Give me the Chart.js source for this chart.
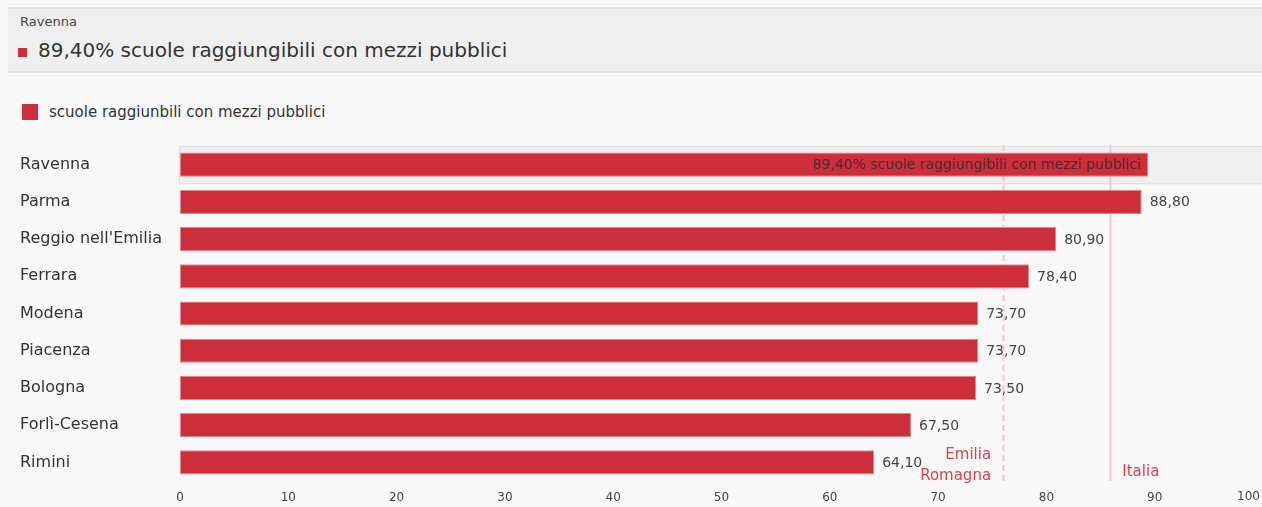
<!DOCTYPE html>
<html>
<head>
<meta charset="utf-8">
<script src="https://cdn.jsdelivr.net/npm/chart.js@4.4.1/dist/chart.umd.min.js"></script>
<style>
  html, body { margin: 0; padding: 0; background: #f8f8f8; overflow: hidden; }
  body { width: 1262px; height: 507px; position: relative; font-family: "DejaVu Sans", sans-serif; color: #333; }
  .head { position: absolute; left: 8px; top: 7px; width: 1254px; height: 62px; background: #efefef;
          border-top: 2px solid #e0e0e0; border-bottom: 2px solid #e0e0e0; }
  .head .city { position: absolute; left: 12px; top: 5px; font-size: 13px; color: #444; }
  .head .big { position: absolute; left: 30px; top: 29px; font-size: 20px; color: #333; }
  .head .sq { position: absolute; left: 10px; top: 39px; width: 9px; height: 9px; background: #cc2e3b; }
  .legend { position: absolute; left: 22px; top: 104px; font-size: 15px; color: #333; }
  .legend .box { position: absolute; left: 0; top: 0; width: 16px; height: 16px; background: #cc2e3b; }
  .legend .lbl { position: absolute; left: 27px; top: -1px; white-space: nowrap; }
  .wrap { position: absolute; left: 0; top: 140px; width: 1263px; height: 367px; }
</style>
</head>
<body>
<div class="head">
  <div class="city">Ravenna</div>
  <div class="sq"></div>
  <div class="big">89,40% scuole raggiungibili con mezzi pubblici</div>
</div>
<div class="legend"><div class="box"></div><div class="lbl">scuole raggiunbili con mezzi pubblici</div></div>
<div class="wrap"><canvas id="chart"></canvas></div>
<script>
// dati
const cities = ['Ravenna', 'Parma', "Reggio nell'Emilia", 'Ferrara', 'Modena', 'Piacenza', 'Bologna', 'Forlì-Cesena', 'Rimini'];
const values = [89.4, 88.8, 80.9, 78.4, 73.7, 73.7, 73.5, 67.5, 64.1];
const xTicks = [0, 10, 20, 30, 40, 50, 60, 70, 80, 90, 100];
const refNames = [['Emilia', 'Romagna'], ['Italia']];
const refValues = [76.0, 85.9];
const selected = 'Ravenna';
const selectedText = '89,40% scuole raggiungibili con mezzi pubblici';

const red = '#cc2e3b';
const FONT = '"DejaVu Sans", sans-serif';
const fmt = v => v.toFixed(2).replace('.', ',');

// sfondo della riga selezionata + linee di riferimento
const backdrop = {
  id: 'backdrop',
  beforeDatasetsDraw(chart) {
    const { ctx, chartArea, scales } = chart;
    const y = scales.y;
    const idx = cities.indexOf(selected);
    const cy = y.getPixelForValue(idx);
    const half = (y.getPixelForValue(1) - y.getPixelForValue(0)) / 2;
    ctx.save();
    ctx.fillStyle = '#efefef';
    ctx.strokeStyle = '#dcdcdc';
    ctx.lineWidth = 1;
    ctx.fillRect(chartArea.left - 1, cy - half, chart.width, half * 2);
    ctx.strokeRect(chartArea.left - 0.5, cy - half + 0.5, chart.width, half * 2);

    refValues.forEach((v, i) => {
      const x = Math.round(scales.x.getPixelForValue(v)) + 0.5;
      ctx.beginPath();
      ctx.strokeStyle = '#f8c4c8';
      ctx.lineWidth = 2;
      ctx.setLineDash(i === 0 ? [6, 4] : []);
      ctx.moveTo(x, chartArea.top - 1);
      ctx.lineTo(x, chartArea.bottom);
      ctx.stroke();
    });
    ctx.restore();
  },
  afterDatasetsDraw(chart) {
    const { ctx, chartArea, scales } = chart;
    const meta = chart.getDatasetMeta(0);
    ctx.save();
    ctx.font = '14px ' + FONT;
    ctx.textBaseline = 'middle';
    meta.data.forEach((bar, i) => {
      if (cities[i] === selected) {
        ctx.fillStyle = '#4a2a2c';
        ctx.textAlign = 'right';
        ctx.fillText(selectedText, bar.x - 7, bar.y + 1);
      } else {
        ctx.fillStyle = '#444';
        ctx.textAlign = 'left';
        ctx.fillText(fmt(values[i]), bar.x + 8, bar.y + 1);
      }
    });
    // etichette delle linee
    ctx.font = '15px ' + FONT;
    ctx.fillStyle = '#dd3f4d';
    const x0 = scales.x.getPixelForValue(refValues[0]);
    ctx.textAlign = 'right';
    ctx.fillText(refNames[0][0], x0 - 12, chartArea.bottom - 26);
    ctx.fillText(refNames[0][1], x0 - 12, chartArea.bottom - 5);
    const x1 = scales.x.getPixelForValue(refValues[1]);
    ctx.textAlign = 'left';
    ctx.fillText(refNames[1][0], x1 + 12, chartArea.bottom - 9);
    // ultimo tick allineato a destra
    ctx.font = '12px ' + FONT;
    ctx.fillStyle = '#444';
    ctx.textAlign = 'right';
    const last = xTicks[xTicks.length - 1];
    ctx.fillText(String(last), 1260, chartArea.bottom + 16);
    ctx.restore();
  }
};

new Chart(document.getElementById('chart'), {
  type: 'bar',
  data: {
    labels: cities,
    datasets: [{
      label: 'scuole raggiunbili con mezzi pubblici',
      data: values,
      backgroundColor: red,
      borderColor: '#e0868d',
      borderWidth: 1,
      borderSkipped: false,
      barPercentage: 0.65,
      categoryPercentage: 1
    }]
  },
  options: {
    indexAxis: 'y',
    responsive: true,
    maintainAspectRatio: false,
    animation: false,
    layout: { padding: { left: 20, top: 6, right: 0, bottom: 2 } },
    plugins: { legend: { display: false }, tooltip: { enabled: false } },
    scales: {
      x: {
        min: 0, max: 100,
        afterBuildTicks: s => { s.ticks = xTicks.map(v => ({ value: v })); },
        afterFit: s => { s.paddingRight = 0; s.paddingLeft = 0; s.height = 24; },
        grid: { display: false },
        border: { display: false },
        ticks: {
          padding: 2,
          color: '#444',
          font: { family: 'DejaVu Sans', size: 12 },
          maxRotation: 0,
          callback: v => (v === xTicks[xTicks.length - 1] ? '' : String(v))
        }
      },
      y: {
        afterFit: s => { s.width = 160; s.paddingTop = 0; s.paddingBottom = 0; },
        grid: { display: false },
        border: { display: false },
        ticks: {
          crossAlign: 'far',
          color: '#333',
          font: { family: 'DejaVu Sans', size: 16 }
        }
      }
    }
  },
  plugins: [backdrop]
});
</script>
</body>
</html>
